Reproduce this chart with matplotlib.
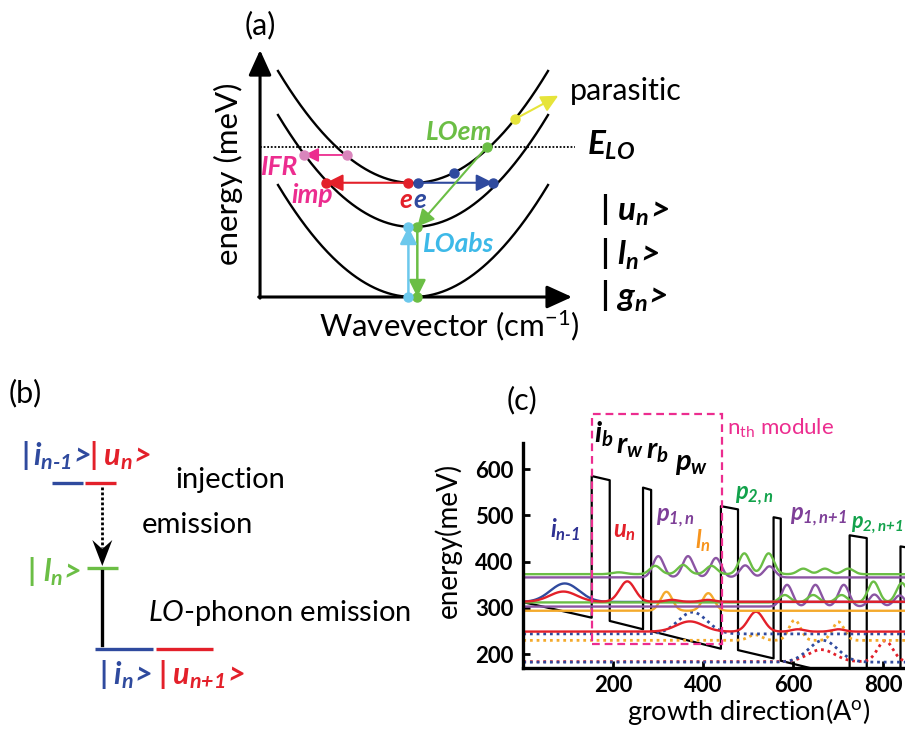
import numpy as np
import matplotlib.pyplot as plt
from matplotlib.patches import Polygon, Rectangle

plt.rcParams['font.family'] = ['Lato', 'DejaVu Sans']
plt.rcParams['mathtext.fontset'] = 'custom'
plt.rcParams['mathtext.it'] = 'Lato:bold:italic'
plt.rcParams['mathtext.rm'] = 'Lato:bold:italic'
plt.rcParams['mathtext.bf'] = 'Lato:bold'
plt.rcParams['mathtext.sf'] = 'Lato'
plt.rcParams['mathtext.tt'] = 'Lato:italic'

PINK = '#EC2D8F'
PINK_DOT = '#D985BC'
RED = '#E3202A'
BLUE = '#2F4A9E'
GREEN = '#6BBE45'
CYAN = '#6CC8EC'
CYAN_TXT = '#3DB9E8'
YELLOW = '#E6E43A'
PURPLE = '#8B55A3'
ORANGE = '#F4AA2C'
GREEN_TXT = '#12A24B'
PURPLE_TXT = '#7E3F98'
ORANGE_TXT = '#F7941D'
BLUE_TXT = '#2E3192'

# ---------------- panel (a): subband dispersion ----------------
band_min = [0.0, 0.625, 1.018]          # |g>, |l>, |u>
k_edge = 1.0
E_LO = 1.339
ifr_k, ifr_E = [-0.491, -0.804], [1.268, 1.268]
imp_k, imp_E = [-0.034, -0.644], [1.02, 1.02]
ee_k, ee_E = [0.039, 0.594], [1.02, 1.02]
ee_partner_k, ee_partner_E = [0.30], [1.108]
loem_k, loem_E = [0.546, 0.032], [1.339, 0.628]
lodown_k, lodown_E = [0.032, 0.032], [0.628, 0.0]
loabs_k, loabs_E = [-0.034, -0.034], [0.0, 0.625]
par_k, par_E = [0.756, 1.076], [1.589, 1.797]

# ---------------- panel (b): level scheme ----------------
lev_x0 = [52, 85, 87, 95, 156]
lev_x1 = [83, 116, 118, 153, 213]
lev_y = [482.7, 482.7, 568.3, 648.7, 648.7]
lev_col = [BLUE, RED, GREEN, BLUE, RED]

# ---------------- panel (c): band profile and states ----------------
cb_x = [-20, 152, 152, 192, 192, 266, 266, 284, 284, 439, 439, 477, 477,
        556, 556, 572, 572, 725, 725, 763, 763, 838, 838, 870]
cb_y = [317, 279, 585, 576, 272, 254, 560, 555, 250, 212, 520, 513, 209,
        191, 496, 493, 186, 149, 457, 451, 140, 122, 433, 428]
module_x = [152, 441]
module_y = [222, 720]

# each state: baseline (meV), bump centres (A), bump heights (meV), bump widths (A)
p2n_base, p2n_c = 373, [212, 293, 355, 418, 491, 545, 622, 670, 722]
p2n_a = [4, 18, 20, 18, 45, 45, 12, 12, 12]
p2n_w = [15, 12, 12, 12, 12, 12, 12, 12, 12]
p1n_base, p1n_c = 366, [300, 366, 428, 493, 547]
p1n_a, p1n_w = [46, 46, 42, 26, 24], [12, 12, 12, 12, 12]
in1_base, in1_c, in1_a, in1_w = 313, [92], [40], [32]
un_base, un_c = 313.5, [89, 231, 330, 410]
un_a, un_w = [22, 44, 4, 4], [30, 17, 14, 14]
p2n1_base, p2n1_c = 312, [581, 644, 707, 778, 841]
p2n1_a, p2n1_w = [16, 16, 16, 45, 42], [12, 12, 12, 12, 12]
p1n1_base, p1n1_c = 303, [586, 649, 712, 780, 836]
p1n1_a, p1n1_w = [47, 47, 47, 26, 24], [12, 12, 12, 12, 12]
ln_base, ln_c, ln_a, ln_w = 294, [318, 411], [41, 38], [13, 13]
un1_base, un1_c = 249, [370, 517, 610, 700]
un1_a, un1_w = [22, 43, 5, 5], [30, 17, 14, 14]
in_base, in_c, in_a, in_w = 244, [376], [47], [32]
ln1_base, ln1_c = 230, [515, 603, 700]
ln1_a, ln1_w = [12, 44, 40], [15, 13, 13]
in2_base, in2_c, in2_a, in2_w = 183, [666], [47], [32]
un2_base, un2_c = 184, [662, 804]
un2_a, un2_w = [26, 45], [30, 17]

W, H = 905, 729
fig = plt.figure(figsize=(W / 100, H / 100), dpi=100)


def px_axes(x0, y0, x1, y1):
    ax = fig.add_axes([x0 / W, 1 - y1 / H, (x1 - x0) / W, (y1 - y0) / H])
    return ax


def arrow(ax, xs, ys, color, lw=1.5, ms=16, hl=0.6, hw=0.3, z=4):
    ax.annotate('', xy=(xs[1], ys[1]), xytext=(xs[0], ys[0]), zorder=z,
                arrowprops=dict(arrowstyle=f'-|>,head_length={hl},head_width={hw}',
                                color=color, lw=lw, mutation_scale=ms,
                                shrinkA=0, shrinkB=0))


# ======================= (a) =======================
ax_a = px_axes(180, 0, 700, 345)
ax_a.set_xlim((180 - 413) / 135, (700 - 413) / 135)
ax_a.set_ylim((297 - 345) / 112, 297 / 112)
ax_a.axis('off')

k = np.linspace(-k_edge, k_edge, 300)
for e0 in band_min:
    ax_a.plot(k, e0 + k ** 2, color='k', lw=1.7, zorder=2)

k_ax = -1.133
arrow(ax_a, [k_ax, k_ax], [-0.01, 2.205], 'k', lw=2.2, ms=28, hl=0.55, hw=0.25)
arrow(ax_a, [k_ax - 0.01, 1.178], [0, 0], 'k', lw=2.2, ms=28, hl=0.55, hw=0.25)
ax_a.plot([k_ax, 1.2], [E_LO, E_LO], color='k', ls=(0, (1, 1)), lw=1.3, zorder=2)

arrow(ax_a, ifr_k, ifr_E, PINK, lw=1.3, ms=14)
ax_a.plot(ifr_k, ifr_E, 'o', color=PINK_DOT, ms=6.5, zorder=5)
arrow(ax_a, imp_k, imp_E, RED, lw=1.5, ms=17)
ax_a.plot(imp_k, imp_E, 'o', color=RED, ms=6.5, zorder=5)
arrow(ax_a, ee_k, ee_E, BLUE, lw=1.5, ms=17)
ax_a.plot(ee_k, ee_E, 'o', color=BLUE, ms=6.5, zorder=5)
ax_a.plot(ee_partner_k, ee_partner_E, 'o', color=BLUE, ms=6.5, zorder=5)
arrow(ax_a, loem_k, loem_E, GREEN, lw=1.5, ms=17)
arrow(ax_a, lodown_k, lodown_E, GREEN, lw=1.8, ms=17)
ax_a.plot([loem_k[0], loem_k[1], lodown_k[1]], [loem_E[0], loem_E[1], lodown_E[1]],
          'o', color=GREEN, ms=6.5, zorder=5)
arrow(ax_a, loabs_k, loabs_E, CYAN, lw=1.8, ms=17)
ax_a.plot(loabs_k, loabs_E, 'o', color=CYAN, ms=6.5, zorder=5)
arrow(ax_a, par_k, par_E, YELLOW, lw=1.5, ms=17)
ax_a.plot(par_k[:1], par_E[:1], 'o', color=YELLOW, ms=6.5, zorder=5)

bi = dict(fontweight='bold', fontstyle='italic', fontsize=19)
ax_a.text(-0.985, 1.089, 'IFR', color=PINK, ha='center', va='baseline', **bi)
ax_a.text(-0.75, 0.836, 'imp', color=PINK, ha='center', va='baseline', **bi)
ax_a.text(-0.005, 0.792, 'e', color=RED, ha='right', va='baseline', **bi)
ax_a.text(0.0, 0.792, 'e', color=BLUE, ha='left', va='baseline', **bi)
ax_a.text(0.341, 1.402, 'LOem', color=GREEN, ha='center', va='baseline', **bi)
ax_a.text(0.336, 0.405, 'LOabs', color=CYAN_TXT, ha='center', va='baseline', **bi)
ax_a.text(1.163, 1.759, 'parasitic', color='k', ha='left', va='baseline', fontsize=22)
ax_a.text(1.286, 1.268, r'$E_{LO}$', color='k', ha='left', va='baseline', fontsize=24)
ax_a.text(1.385, 0.681, r'$|\ u_n\!>$', color='k', ha='left', va='baseline', fontsize=24)
ax_a.text(1.385, 0.286, r'$|\ l_n\!>$', color='k', ha='left', va='baseline', fontsize=24)
ax_a.text(1.385, -0.087, r'$|\ g_n\!>$', color='k', ha='left', va='baseline', fontsize=24)
ax_a.text(-1.37, 1.103, 'energy (meV)', rotation=90, ha='center', va='center', fontsize=22.5)
ax_a.text(0.267, -0.259, r'Wavevector (cm$^{\mathsf{-1}}$)', ha='center', va='center', fontsize=22.5)

# ======================= (b) =======================
ax_b = px_axes(0, 370, 460, 729)
ax_b.set_xlim(0, 460)
ax_b.set_ylim(729, 370)
ax_b.axis('off')
for x0, x1, y, c in zip(lev_x0, lev_x1, lev_y, lev_col):
    ax_b.plot([x0, x1], [y, y], color=c, lw=2.4, solid_capstyle='butt')
x_tr = 102.3
ax_b.plot([x_tr, x_tr], [487, 548], color='k', ls=(0, (1, 0.8)), lw=2.0)
ax_b.add_patch(Polygon([[x_tr, 566], [x_tr - 10, 540], [x_tr, 549], [x_tr + 10, 540]],
                       closed=True, color='k', lw=0))
ax_b.plot([x_tr, x_tr], [571, 645], color='k', lw=2.4)

kb = dict(fontsize=22, ha='left', va='baseline')
ax_b.text(21, 465, r'$|\,i_{n\text{-}1}\!>$', color=BLUE, **kb)
ax_b.text(89, 465, r'$|\;u_n\!>$', color=RED, **kb)
ax_b.text(27, 581, r'$|\ l_n\!>$', color=GREEN, **kb)
ax_b.text(99, 684, r'$|\;i_n\!>$', color=BLUE, **kb)
ax_b.text(158, 684, r'$|\;u_{n\text{+}1}\!>$', color=RED, **kb)
ax_b.text(230, 480, 'injection', ha='center', va='center', fontsize=21)
ax_b.text(197, 525, 'emission', ha='center', va='center', fontsize=21)
ax_b.text(148, 613, r'$\mathtt{LO}$-phonon emission', ha='left', va='center', fontsize=21)

# ======================= (c) =======================
ax_c = px_axes(523.3, 443, 905, 667.7)
ax_c.set_xlim(0, 848)
ax_c.set_ylim(171, 656.4)
ax_c.plot(cb_x, cb_y, color='k', lw=1.6, zorder=1)

x = np.linspace(0, 848, 1600)


def wave(base, centres, heights, widths):
    y = np.full_like(x, base, dtype=float)
    for c, a, w in zip(centres, heights, widths):
        y += a * np.exp(-0.5 * ((x - c) / w) ** 2)
    return y


dot = (0, (1, 1.4))
ax_c.plot(x, wave(un2_base, un2_c, un2_a, un2_w), color=RED, ls=dot, lw=2.0, zorder=2)
ax_c.plot(x, wave(in2_base, in2_c, in2_a, in2_w), color=BLUE, ls=dot, lw=2.0, zorder=2)
ax_c.plot(x, wave(ln1_base, ln1_c, ln1_a, ln1_w), color=ORANGE, ls=dot, lw=2.0, zorder=2)
ax_c.plot(x, wave(in_base, in_c, in_a, in_w), color=BLUE, ls=dot, lw=2.0, zorder=2)
ax_c.plot(x, wave(un1_base, un1_c, un1_a, un1_w), color=RED, lw=1.7, zorder=2)
ax_c.plot(x, wave(ln_base, ln_c, ln_a, ln_w), color=ORANGE, lw=1.7, zorder=2)
ax_c.plot(x, wave(p1n1_base, p1n1_c, p1n1_a, p1n1_w), color=PURPLE, lw=1.7, zorder=2)
ax_c.plot(x, wave(in1_base, in1_c, in1_a, in1_w), color=BLUE, lw=1.7, zorder=2)
ax_c.plot(x, wave(p2n1_base, p2n1_c, p2n1_a, p2n1_w), color=GREEN, lw=1.7, zorder=2)
ax_c.plot(x, wave(un_base, un_c, un_a, un_w), color=RED, lw=1.7, zorder=2)
ax_c.plot(x, wave(p1n_base, p1n_c, p1n_a, p1n_w), color=PURPLE, lw=1.7, zorder=2)
ax_c.plot(x, wave(p2n_base, p2n_c, p2n_a, p2n_w), color=GREEN, lw=1.7, zorder=2)

ax_c.add_patch(Rectangle((module_x[0], module_y[0]), module_x[1] - module_x[0],
                         module_y[1] - module_y[0], fill=False, ec=PINK, lw=1.6,
                         ls=(0, (3.5, 2.2)), clip_on=False, zorder=3))

for s in ['top', 'right']:
    ax_c.spines[s].set_visible(False)
for s in ['left', 'bottom']:
    ax_c.spines[s].set_linewidth(2.4)
ax_c.set_xticks([200, 400, 600, 800])
ax_c.set_yticks([200, 300, 400, 500, 600])
ax_c.tick_params(direction='in', length=5, width=2, labelsize=16)
ax_c.tick_params(axis='y', pad=7)
ax_c.tick_params(axis='x', pad=5)
plt.setp(ax_c.get_xticklabels() + ax_c.get_yticklabels(), fontweight='bold')
ax_c.set_ylabel('energy(meV)', fontsize=20)
ax_c.set_xlabel(r'growth direction(A$^{\mathsf{o}}$)', fontsize=19.5)
ax_c.yaxis.set_label_coords(-0.162, 0.568)
ax_c.xaxis.set_label_coords(0.591, -0.128)

sl = dict(fontsize=17, ha='left', va='baseline')
ax_c.text(59, 454, r'$i_{n\text{-}1}$', color=BLUE_TXT, **sl)
ax_c.text(200, 454, r'$u_n$', color=RED, **sl)
ax_c.text(295, 486, r'$p_{1,n}$', color=PURPLE_TXT, **sl)
ax_c.text(381, 429, r'$l_n$', color=ORANGE_TXT, **sl)
ax_c.text(470, 535, r'$p_{2,n}$', color=GREEN_TXT, **sl)
ax_c.text(593, 488, r'$p_{1,n\text{+}1}$', color=PURPLE_TXT, **sl)
ax_c.text(727, 473, r'$p_{2,n\text{+}1}$', color=GREEN_TXT, fontsize=15.5,
          ha='left', va='baseline')
ll = dict(fontsize=21, ha='left', va='baseline', color='k')
ax_c.text(158, 658, r'$i_b$', **ll)
ax_c.text(207, 634, r'$r_w$', **ll)
ax_c.text(273, 622, r'$r_b$', **ll)
ax_c.text(336, 598, r'$p_w$', **ll)
ax_c.text(452, 674, r'n$_{\mathsf{th}}$ module', color=PINK, fontsize=16,
          ha='left', va='baseline')

# panel letters
for lab, px, py in [('(a)', 260, 25), ('(b)', 25, 393), ('(c)', 522, 400)]:
    fig.text(px / W, 1 - py / H, lab, ha='center', va='center', fontsize=22)

fig.savefig('out.png', dpi=100)
